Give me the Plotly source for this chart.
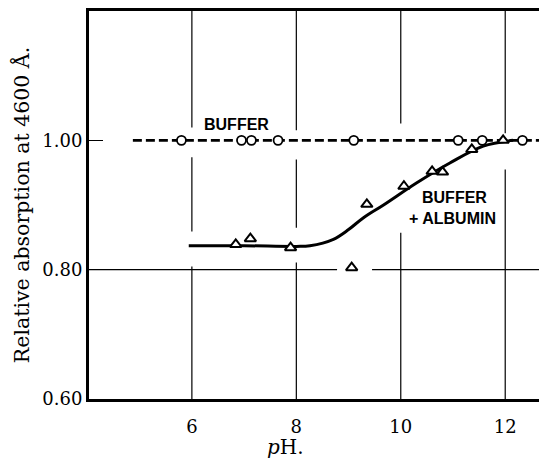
import plotly.graph_objects as go

# ---- data ----
buffer_ph = [5.80, 6.95, 7.14, 7.65, 9.10, 11.10, 11.56, 12.33]
buffer_abs = [1.00, 1.00, 1.00, 1.00, 1.00, 1.00, 1.00, 1.00]
buffer_line_ph = [4.87, 13.0]
buffer_line_abs = [1.00, 1.00]

albumin_ph = [6.84, 7.12, 7.89, 9.06, 9.35, 10.06, 10.60, 10.80, 11.36, 11.96]
albumin_abs = [0.839, 0.848, 0.834, 0.803, 0.901, 0.929, 0.952, 0.951, 0.986, 1.000]

curve_ph = [5.94, 7.0, 8.0, 8.26, 8.71, 9.0, 9.28, 9.67, 10.30, 10.94, 11.58, 12.15]
curve_abs = [0.837, 0.837, 0.836, 0.837, 0.847, 0.862, 0.880, 0.900, 0.934, 0.965, 0.991, 1.000]

x_ticks = [6, 8, 10, 12]
y_ticks = [0.60, 0.80, 1.00]
y_tick_text = ["0.60", "0.80", "1.00"]

# grid line segments (value, [(start, end), ...])
v_grid = {
    6: [(1.20, 1.020), (0.974, 0.859), (0.805, 0.60)],
    8: [(1.20, 1.0155), (0.9705, 0.865), (0.811, 0.60)],
    10: [(1.20, 1.026), (0.857, 0.60)],
    12: [(1.20, 1.011), (0.955, 0.60)],
}
h_grid = {0.80: [(4.0, 8.78), (9.45, 13.0)]}

fig = go.Figure()

fig.add_trace(go.Scatter(x=buffer_line_ph, y=buffer_line_abs, mode="lines",
                         line=dict(color="black", width=2.6, dash="9px,4px"),
                         showlegend=False, cliponaxis=True))
fig.add_trace(go.Scatter(x=curve_ph, y=curve_abs, mode="lines",
                         line=dict(color="black", width=3, shape="spline", smoothing=1.0),
                         showlegend=False))
fig.add_trace(go.Scatter(x=buffer_ph, y=buffer_abs, mode="markers",
                         marker=dict(symbol="circle", size=9, color="white",
                                     line=dict(color="black", width=1.8)),
                         showlegend=False, cliponaxis=False))
fig.add_trace(go.Scatter(x=albumin_ph, y=albumin_abs, mode="markers",
                         marker=dict(symbol="triangle-up", size=10, color="white",
                                     line=dict(color="black", width=2)),
                         showlegend=False, cliponaxis=False))

shapes = []
for xv, segs in v_grid.items():
    for a, b in segs:
        shapes.append(dict(type="line", xref="x", yref="y", x0=xv, x1=xv, y0=a, y1=b,
                           line=dict(color="black", width=1.2), layer="below"))
for yv, segs in h_grid.items():
    for a, b in segs:
        shapes.append(dict(type="line", xref="x", yref="y", x0=a, x1=b, y0=yv, y1=yv,
                           line=dict(color="black", width=1.4), layer="below"))

serif = "DejaVu Serif, serif"
lab_font = dict(family="Liberation Sans, Arial, sans-serif", size=16, color="black")
annotations = [
    dict(x=6.19, y=1.025, xref="x", yref="y", text="<b>BUFFER</b>", showarrow=False,
         xanchor="left", yanchor="middle", font=lab_font),
    dict(x=10.37, y=0.912, xref="x", yref="y", text="<b>BUFFER</b>", showarrow=False,
         xanchor="left", yanchor="middle", font=lab_font),
    dict(x=10.12, y=0.879, xref="x", yref="y", text="<b>+ ALBUMIN</b>", showarrow=False,
         xanchor="left", yanchor="middle", font=lab_font),
    # x-axis title, placed 48 px below the 388 px tall plot area
    dict(x=7.80, y=-48 / 388.0, xref="x", yref="paper", yanchor="middle", xanchor="center",
         text="<i>p</i>H.", showarrow=False,
         font=dict(family=serif, size=20, color="black")),
]

# page body has an 8px default margin; figure sized to fill the rest of the window
fig.update_layout(
    width=539, height=451,
    margin=dict(l=81, r=0, t=3, b=60),
    paper_bgcolor="white", plot_bgcolor="white",
    shapes=shapes, annotations=annotations,
    xaxis=dict(range=[4.03, 12.80], tickvals=x_ticks, showgrid=False, zeroline=False,
               showline=True, mirror=True, linecolor="black", linewidth=3,
               ticks="", automargin=False, ticklabelstandoff=9,
               tickfont=dict(family=serif, size=18, color="black")),
    yaxis=dict(range=[0.60, 1.20], tickvals=y_ticks, ticktext=y_tick_text,
               showgrid=False, zeroline=False, showline=True, mirror=False,
               linecolor="black", linewidth=3, ticks="inside", ticklen=14,
               tickwidth=1.4, tickcolor="black", automargin=False,
               tickfont=dict(family=serif, size=18, color="black"),
               title=dict(text="Relative absorption at 4600 Å.",
                          font=dict(family=serif, size=20.5, color="black"), standoff=8)),
)

fig.write_html("out.html")
